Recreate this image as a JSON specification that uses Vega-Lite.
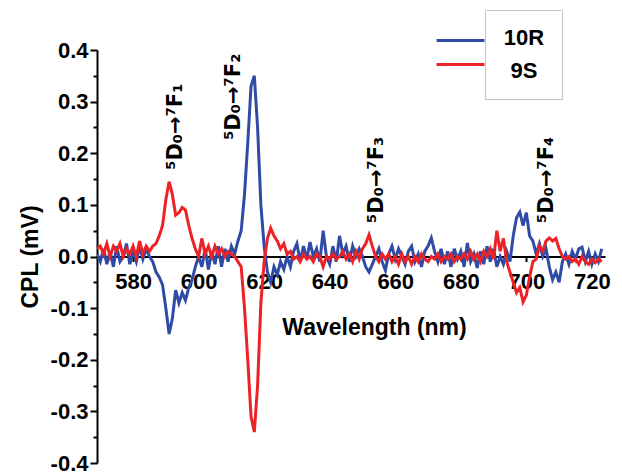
{
  "$schema": "https://vega.github.io/schema/vega-lite/v6.json",
  "width": 508,
  "height": 413,
  "autosize": {"type": "none"},
  "padding": {"left": 97, "top": 50, "right": 17, "bottom": 10},
  "background": "white",
  "config": {
    "view": {"stroke": null},
    "font": "Liberation Sans",
    "axis": {"domainColor": "black", "tickColor": "black", "labelColor": "black", "titleColor": "black", "grid": false, "labelFont": "Liberation Sans", "titleFont": "Liberation Sans", "labelFontWeight": "bold", "titleFontWeight": "bold"}
  },
  "datasets": {
    "spec": [
      {"wl":569,"10R":0.005,"9S":0.015},{"wl":570,"10R":-0.01,"9S":0.02},{"wl":571,"10R":0.015,"9S":0.005},{"wl":572,"10R":-0.015,"9S":0.025},
      {"wl":573,"10R":0.01,"9S":0.0},{"wl":574,"10R":-0.02,"9S":0.02},{"wl":575,"10R":0.02,"9S":0.01},{"wl":576,"10R":-0.01,"9S":0.025},
      {"wl":577,"10R":0.0,"9S":0.0},{"wl":578,"10R":0.025,"9S":0.015},{"wl":579,"10R":-0.015,"9S":0.005},{"wl":580,"10R":0.01,"9S":0.02},
      {"wl":581,"10R":-0.01,"9S":0.0},{"wl":582,"10R":0.02,"9S":0.03},{"wl":583,"10R":-0.005,"9S":0.005},{"wl":584,"10R":0.015,"9S":0.02},
      {"wl":585,"10R":0.0,"9S":0.01},{"wl":586,"10R":-0.01,"9S":0.02},{"wl":587,"10R":-0.03,"9S":0.025},{"wl":588,"10R":-0.04,"9S":0.04},
      {"wl":589,"10R":-0.055,"9S":0.06},{"wl":590,"10R":-0.1,"9S":0.11},{"wl":591,"10R":-0.15,"9S":0.145},{"wl":592,"10R":-0.12,"9S":0.12},
      {"wl":593,"10R":-0.065,"9S":0.08},{"wl":594,"10R":-0.09,"9S":0.085},{"wl":595,"10R":-0.07,"9S":0.095},{"wl":596,"10R":-0.085,"9S":0.09},
      {"wl":597,"10R":-0.06,"9S":0.06},{"wl":598,"10R":-0.045,"9S":0.035},{"wl":599,"10R":-0.02,"9S":0.015},{"wl":600,"10R":0.0,"9S":0.0},
      {"wl":601,"10R":-0.02,"9S":0.035},{"wl":602,"10R":0.015,"9S":0.005},{"wl":603,"10R":-0.025,"9S":0.02},{"wl":604,"10R":0.01,"9S":0.0},
      {"wl":605,"10R":-0.015,"9S":0.02},{"wl":606,"10R":0.02,"9S":0.005},{"wl":607,"10R":-0.02,"9S":0.015},{"wl":608,"10R":0.015,"9S":0.0},
      {"wl":609,"10R":-0.01,"9S":0.01},{"wl":610,"10R":0.02,"9S":0.005},{"wl":611,"10R":0.005,"9S":0.0},{"wl":612,"10R":0.03,"9S":-0.01},
      {"wl":613,"10R":0.05,"9S":-0.02},{"wl":614,"10R":0.12,"9S":-0.1},{"wl":615,"10R":0.22,"9S":-0.2},{"wl":616,"10R":0.33,"9S":-0.31},
      {"wl":617,"10R":0.35,"9S":-0.34},{"wl":618,"10R":0.25,"9S":-0.25},{"wl":619,"10R":0.1,"9S":-0.09},{"wl":620,"10R":0.02,"9S":-0.01},
      {"wl":621,"10R":-0.03,"9S":0.035},{"wl":622,"10R":-0.05,"9S":0.055},{"wl":623,"10R":-0.02,"9S":0.04},{"wl":624,"10R":-0.035,"9S":0.03},
      {"wl":625,"10R":-0.01,"9S":0.015},{"wl":626,"10R":-0.025,"9S":0.025},{"wl":627,"10R":0.0,"9S":0.005},{"wl":628,"10R":-0.02,"9S":0.01},
      {"wl":629,"10R":0.01,"9S":-0.005},{"wl":630,"10R":0.025,"9S":0.0},{"wl":631,"10R":-0.01,"9S":-0.01},{"wl":632,"10R":0.02,"9S":0.005},
      {"wl":633,"10R":-0.005,"9S":-0.005},{"wl":634,"10R":0.028,"9S":0.0},{"wl":635,"10R":0.0,"9S":-0.01},{"wl":636,"10R":0.015,"9S":0.005},
      {"wl":637,"10R":-0.01,"9S":0.0},{"wl":638,"10R":0.05,"9S":-0.02},{"wl":639,"10R":0.0,"9S":0.0},{"wl":640,"10R":-0.015,"9S":-0.005},
      {"wl":641,"10R":0.02,"9S":0.005},{"wl":642,"10R":-0.01,"9S":-0.005},{"wl":643,"10R":0.04,"9S":0.0},{"wl":644,"10R":0.005,"9S":0.01},
      {"wl":645,"10R":0.02,"9S":-0.005},{"wl":646,"10R":-0.01,"9S":0.005},{"wl":647,"10R":0.02,"9S":-0.01},{"wl":648,"10R":0.0,"9S":0.01},
      {"wl":649,"10R":0.015,"9S":-0.005},{"wl":650,"10R":0.0,"9S":0.015},{"wl":651,"10R":-0.02,"9S":0.025},{"wl":652,"10R":-0.03,"9S":0.042},
      {"wl":653,"10R":-0.015,"9S":0.02},{"wl":654,"10R":0.0,"9S":0.0},{"wl":655,"10R":0.015,"9S":-0.01},{"wl":656,"10R":-0.01,"9S":0.005},
      {"wl":657,"10R":-0.027,"9S":-0.005},{"wl":658,"10R":0.005,"9S":0.005},{"wl":659,"10R":0.02,"9S":-0.01},{"wl":660,"10R":-0.005,"9S":0.0},
      {"wl":661,"10R":0.015,"9S":-0.015},{"wl":662,"10R":0.0,"9S":0.005},{"wl":663,"10R":-0.015,"9S":-0.01},{"wl":664,"10R":0.01,"9S":0.0},
      {"wl":665,"10R":0.02,"9S":-0.015},{"wl":666,"10R":-0.01,"9S":0.0},{"wl":667,"10R":0.005,"9S":-0.01},{"wl":668,"10R":-0.02,"9S":0.005},
      {"wl":669,"10R":0.01,"9S":-0.005},{"wl":670,"10R":0.02,"9S":-0.01},{"wl":671,"10R":0.036,"9S":0.0},{"wl":672,"10R":0.01,"9S":-0.005},
      {"wl":673,"10R":-0.01,"9S":0.005},{"wl":674,"10R":0.015,"9S":-0.01},{"wl":675,"10R":-0.015,"9S":0.0},{"wl":676,"10R":0.01,"9S":-0.005},
      {"wl":677,"10R":-0.02,"9S":0.005},{"wl":678,"10R":0.015,"9S":-0.01},{"wl":679,"10R":-0.005,"9S":0.0},{"wl":680,"10R":0.01,"9S":-0.005},
      {"wl":681,"10R":-0.02,"9S":0.005},{"wl":682,"10R":0.026,"9S":-0.005},{"wl":683,"10R":-0.01,"9S":0.01},{"wl":684,"10R":0.005,"9S":-0.005},
      {"wl":685,"10R":-0.022,"9S":0.005},{"wl":686,"10R":0.01,"9S":-0.01},{"wl":687,"10R":-0.015,"9S":0.01},{"wl":688,"10R":0.02,"9S":0.0},
      {"wl":689,"10R":-0.01,"9S":0.015},{"wl":690,"10R":0.015,"9S":-0.005},{"wl":691,"10R":-0.02,"9S":0.05},{"wl":692,"10R":0.0,"9S":0.01},
      {"wl":693,"10R":-0.015,"9S":0.035},{"wl":694,"10R":0.01,"9S":-0.01},{"wl":695,"10R":-0.01,"9S":-0.03},{"wl":696,"10R":0.04,"9S":-0.05},
      {"wl":697,"10R":0.075,"9S":-0.07},{"wl":698,"10R":0.086,"9S":-0.06},{"wl":699,"10R":0.06,"9S":-0.088},{"wl":700,"10R":0.085,"9S":-0.075},
      {"wl":701,"10R":0.04,"9S":-0.04},{"wl":702,"10R":0.03,"9S":-0.01},{"wl":703,"10R":0.005,"9S":-0.005},{"wl":704,"10R":0.025,"9S":0.02},
      {"wl":705,"10R":0.0,"9S":0.01},{"wl":706,"10R":0.015,"9S":0.03},{"wl":707,"10R":-0.02,"9S":0.036},{"wl":708,"10R":-0.045,"9S":0.03},
      {"wl":709,"10R":-0.03,"9S":0.035},{"wl":710,"10R":-0.05,"9S":0.015},{"wl":711,"10R":-0.01,"9S":0.0},{"wl":712,"10R":0.005,"9S":-0.005},
      {"wl":713,"10R":-0.015,"9S":0.0},{"wl":714,"10R":0.01,"9S":-0.01},{"wl":715,"10R":-0.005,"9S":-0.005},{"wl":716,"10R":0.015,"9S":-0.015},
      {"wl":717,"10R":0.018,"9S":0.0},{"wl":718,"10R":-0.01,"9S":-0.01},{"wl":719,"10R":0.01,"9S":-0.015},{"wl":720,"10R":-0.015,"9S":-0.005},
      {"wl":721,"10R":0.005,"9S":-0.012},{"wl":722,"10R":-0.01,"9S":-0.005},{"wl":723,"10R":0.015,"9S":-0.01}
    ],
    "ann": [
      {"wl": 593, "cpl": 0.168, "label": "⁵D₀→⁷F₁"},
      {"wl": 610.8, "cpl": 0.226, "label": "⁵D₀→⁷F₂"},
      {"wl": 654.4, "cpl": 0.065, "label": "⁵D₀→⁷F₃"},
      {"wl": 706.2, "cpl": 0.065, "label": "⁵D₀→⁷F₄"}
    ]
  },
  "encoding": {
    "x": {
      "field": "wl", "type": "quantitative",
      "scale": {"domain": [569, 724], "nice": false, "zero": false},
      "axis": {
        "title": "Wavelength (nm)", "titleFontSize": 23, "titleX": 277, "titlePadding": 24,
        "values": [580, 600, 620, 640, 660, 680, 700, 720],
        "offset": -206.5, "domainWidth": 2, "tickWidth": 2, "tickSize": 5,
        "labelFontSize": 22, "labelPadding": 10, "labelFlush": false, "labelOverlap": false
      }
    },
    "y": {
      "field": "cpl", "type": "quantitative",
      "scale": {"domain": [-0.4, 0.4], "nice": false},
      "axis": {
        "title": "CPL (mV)", "titleFontSize": 23, "titlePadding": 8,
        "values": [-0.4, -0.35, -0.3, -0.25, -0.2, -0.15, -0.1, -0.05, 0, 0.05, 0.1, 0.15, 0.2, 0.25, 0.3, 0.35, 0.4],
        "labelExpr": "abs(round(datum.value*10)-datum.value*10) < 0.01 ? replace(format(datum.value, '.1f'), '\u2212', '-') : ''",
        "tickSize": {"condition": {"test": "abs(round(datum.value*10)-datum.value*10) < 0.01", "value": 7}, "value": 4},
        "domainWidth": 2, "tickWidth": 2, "labelFontSize": 22, "labelPadding": 2, "labelOverlap": false, "labelFlush": false
      }
    }
  },
  "layer": [
    {
      "data": {"name": "spec"},
      "transform": [{"fold": ["10R", "9S"], "as": ["sample", "cpl"]}],
      "mark": {"type": "line", "strokeWidth": 3, "clip": true},
      "encoding": {
        "color": {
          "field": "sample", "type": "nominal",
          "scale": {"range": ["#2F4BA6", "#EC2227"]},
          "legend": {
            "orient": "none", "legendX": 345.5, "legendY": -27.5, "title": null,
            "symbolType": "M-1.45,0H1.45", "symbolSize": 1089, "symbolStrokeWidth": 3,
            "labelExpr": "''", "labelFontSize": 1, "rowPadding": 0, "padding": 0
          }
        },
        "strokeDash": {
          "field": "sample", "type": "nominal",
          "scale": {"domain": ["10R", "9S"], "range": [[1, 0], [1, 0]]},
          "legend": {
            "orient": "none", "legendX": 388, "legendY": -40, "title": null,
            "symbolSize": 0, "symbolOpacity": 0, "symbolStrokeWidth": 0,
            "labelFontSize": 22, "labelFont": "Liberation Sans", "labelFontWeight": "bold", "labelColor": "black",
            "labelAlign": "center", "labelOffset": 0, "rowPadding": 11, "padding": 17,
            "strokeColor": "#c4c4c4"
          }
        }
      }
    },
    {
      "data": {"name": "ann"},
      "mark": {"type": "text", "angle": 270, "align": "left", "baseline": "middle", "fontSize": 21, "fontWeight": "bold", "font": "DejaVu Sans", "color": "black"},
      "encoding": {
        "text": {"field": "label"}
      }
    }
  ]
}
